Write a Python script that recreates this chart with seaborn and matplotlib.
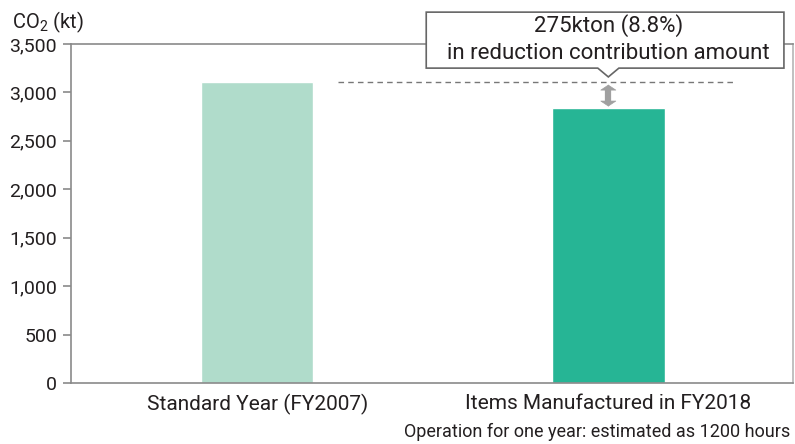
import matplotlib
matplotlib.use("Agg")
import matplotlib.pyplot as plt
import seaborn as sns
import pandas as pd
from matplotlib.patches import Polygon

categories = ["Standard Year (FY2007)", "Items Manufactured in FY2018"]
values = [3110, 2835]
colors = ["#b0dccb", "#26b595"]
yticks = [0, 500, 1000, 1500, 2000, 2500, 3000, 3500]
callout_lines = ["275kton (8.8%)", "in reduction contribution amount"]
footnote = "Operation for one year: estimated as 1200 hours"
ylabel = "CO$_2$ (kt)"

sns.set_theme(style="white")
plt.rcParams['font.family'] = ['Roboto', 'DejaVu Sans']
plt.rcParams['mathtext.fontset'] = 'custom'
plt.rcParams['mathtext.rm'] = 'Roboto'

df = pd.DataFrame({"cat": categories, "val": values})
fig = plt.figure(figsize=(7.95, 4.44), dpi=100)
ax = fig.add_axes([0.0893, 0.1374, 0.9087, 0.7635])
sns.barplot(data=df, x="cat", y="val", hue="cat", palette=colors, width=0.32,
            legend=False, ax=ax, saturation=1)
ax.set_xlim(-0.53, 1.527)
ax.set_ylim(0, 3500)
ax.set_yticks(yticks)
ax.set_yticklabels([f"{v:,}" for v in yticks])
ax.set_xlabel("")
ax.set_ylabel("")
gray = "#8a8a8a"
txt = "#231f20"
for s in ax.spines.values():
    s.set_color(gray)
    s.set_linewidth(1.2)
ax.spines["right"].set_color("#b5b5b5")
ax.tick_params(axis="y", length=6, width=1.2, color=gray, labelsize=14, pad=4, labelcolor=txt, left=True)
ax.tick_params(axis="x", length=0, labelsize=15, pad=8, labelcolor=txt)

# dashed reference line at base value
ax.plot([0.229, 1.356], [values[0], values[0]], ls=(0, (4, 3)), color="#777777", lw=1)

# double arrow showing reduction
a_top = values[0] - 30
a_bot = values[1] + 20
arrow_col = "#a0a0a0"
ax.plot([1, 1], [a_bot + 40, a_top - 40], color=arrow_col, lw=4.5, solid_capstyle="butt")
ax.annotate("", xy=(1, a_bot), xytext=(1, a_top),
            arrowprops=dict(arrowstyle="<|-|>,head_length=0.3,head_width=0.45", color=arrow_col, lw=0.5,
                            mutation_scale=12, shrinkA=0, shrinkB=0))

# callout box with pointer
bx0, bx1 = 0.4815, 1.5
by0, by1 = 3251, 3829
pw = 0.03
tip_y = values[0] + 50
poly = Polygon([(bx0, by0), (1 - pw, by0), (1, tip_y), (1 + pw, by0), (bx1, by0),
                (bx1, by1), (bx0, by1)], closed=True, facecolor="white",
               edgecolor="#666666", lw=1.2, clip_on=False, zorder=5)
ax.add_patch(poly)
ax.text(1, 3690, callout_lines[0], ha="center", va="center", fontsize=16, color=txt, zorder=6, clip_on=False)
ax.text(1, 3400, callout_lines[1], ha="center", va="center", fontsize=16, color=txt, zorder=6, clip_on=False)

fig.text(12 / 795, 1 - 22 / 444, ylabel, fontsize=14.5, ha="left", va="center", color=txt)
fig.text(790 / 795, 1 - 432 / 444, footnote, fontsize=13, ha="right", va="center", color=txt)

fig.savefig("out.png", dpi=100)
